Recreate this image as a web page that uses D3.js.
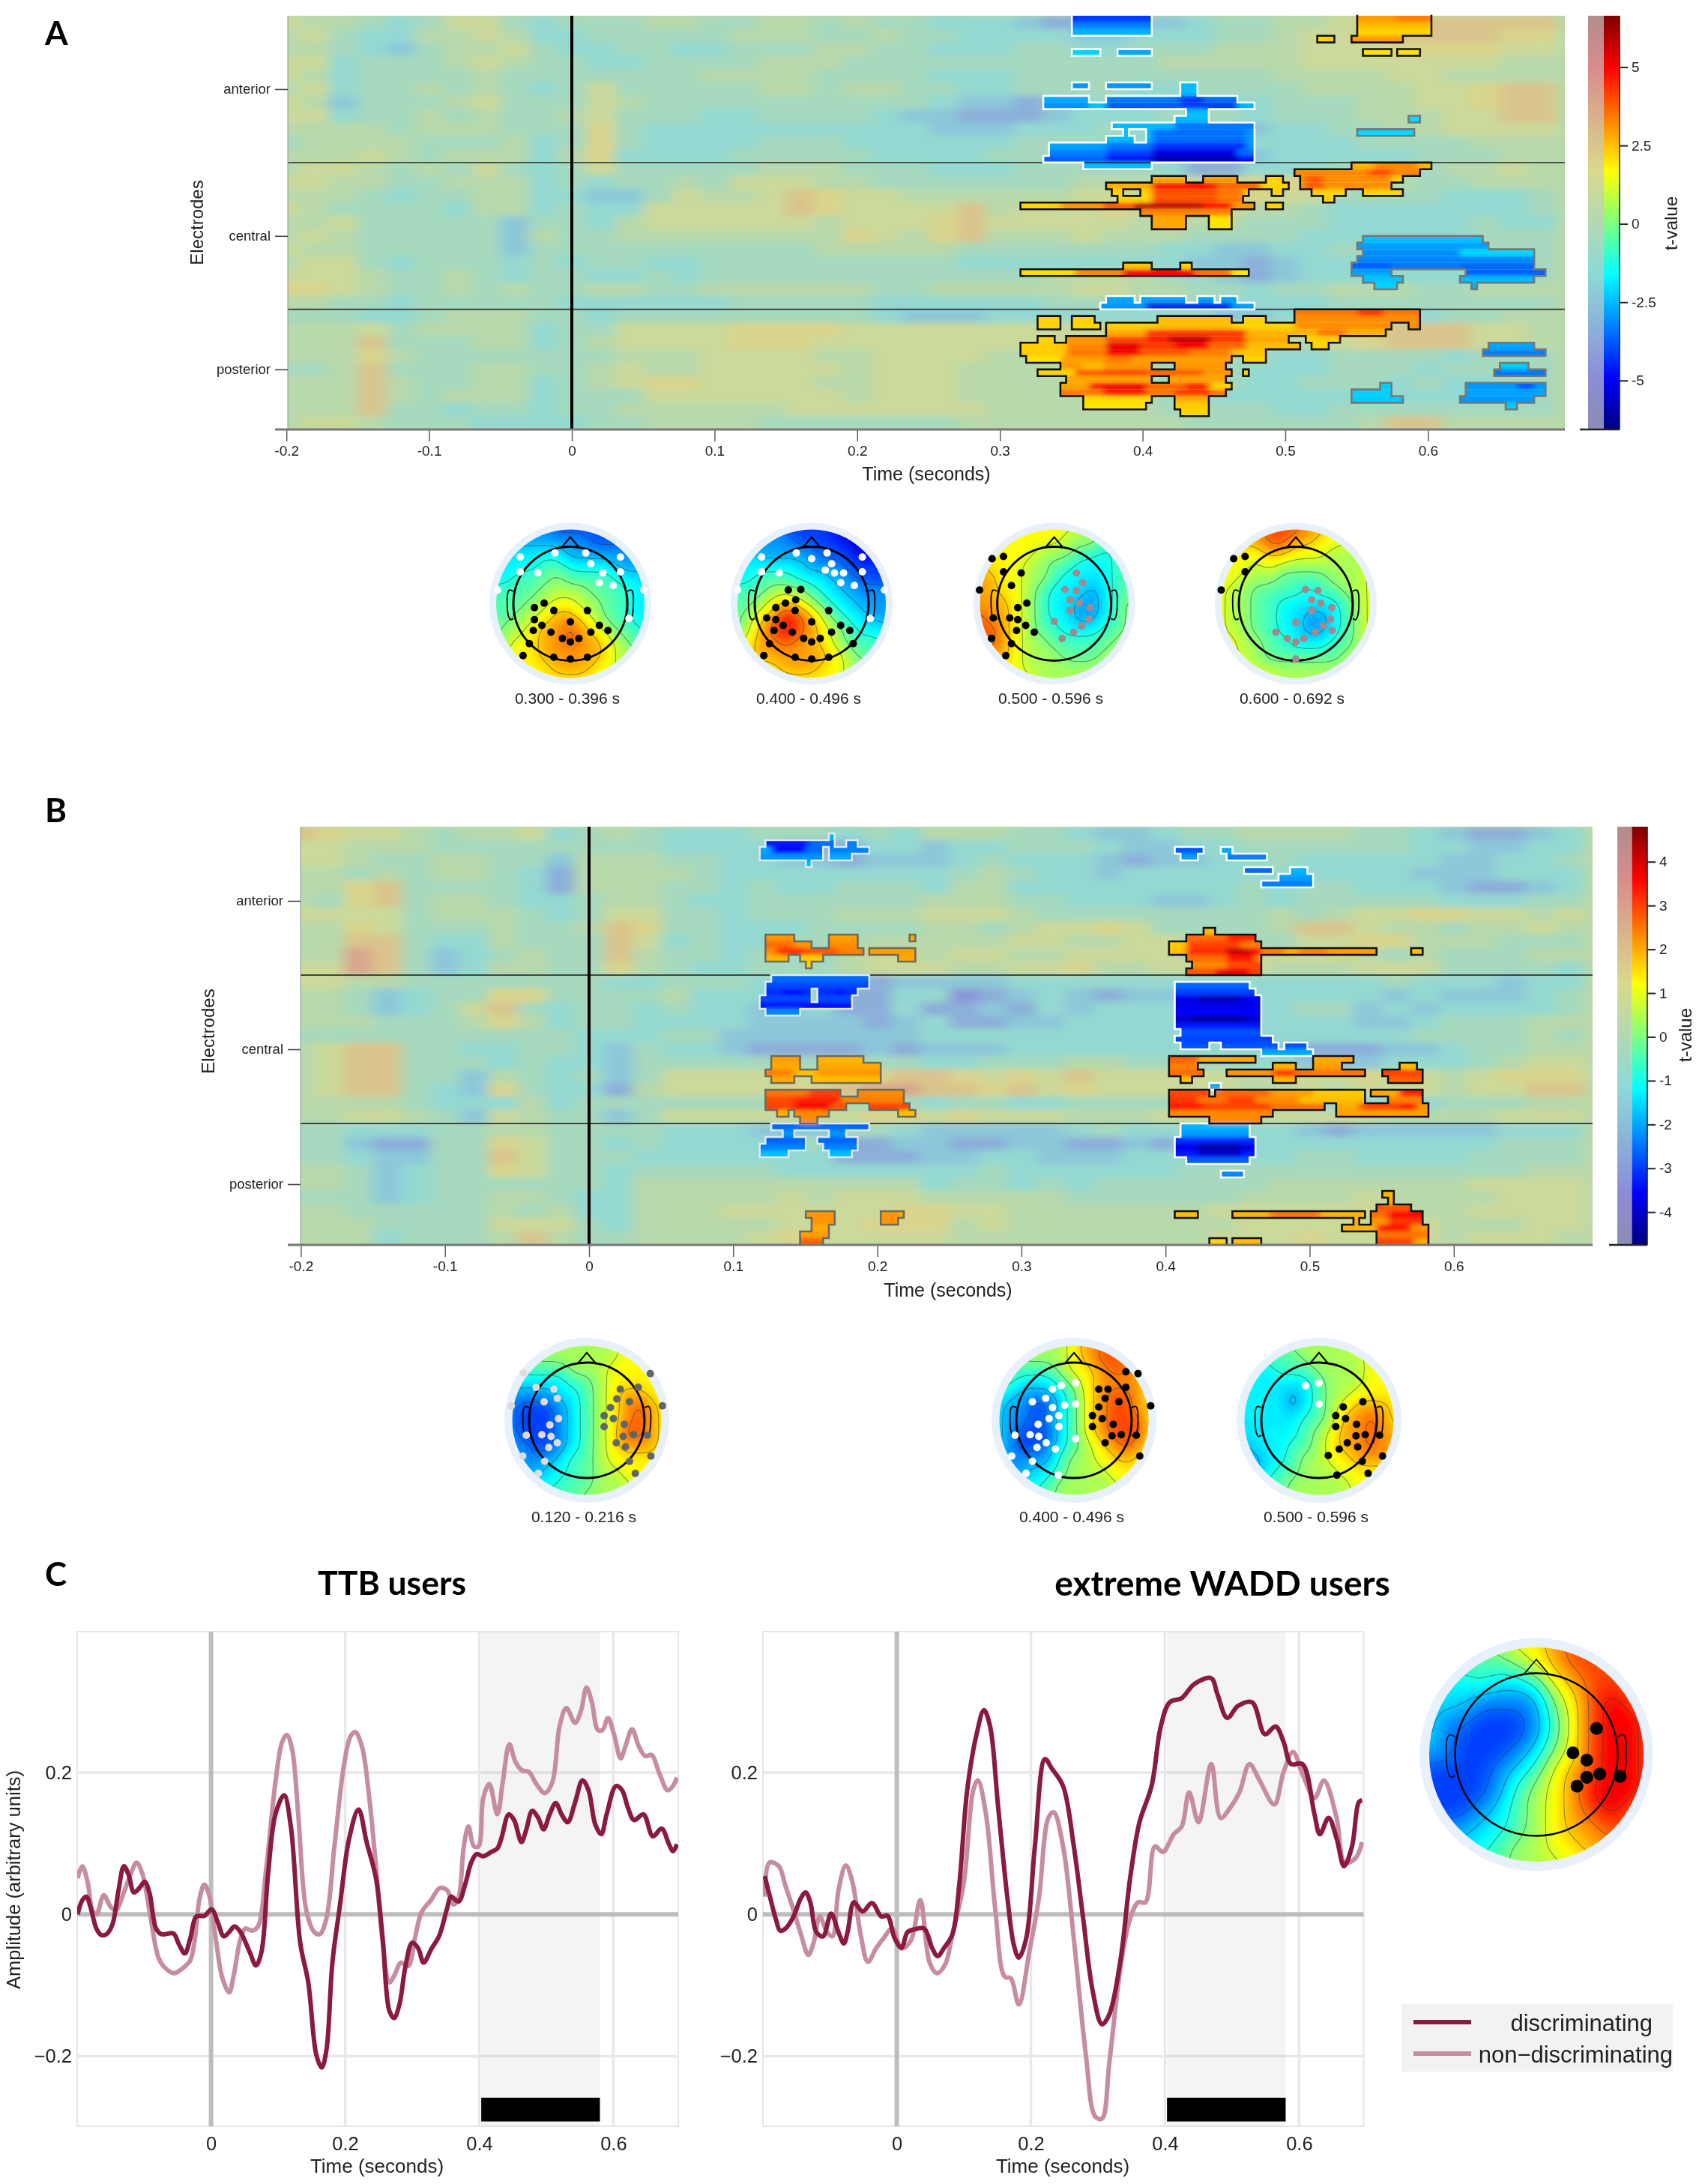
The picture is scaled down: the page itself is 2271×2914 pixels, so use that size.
<!DOCTYPE html>
<html>
<head>
<meta charset="utf-8">
<script src="https://cdn.jsdelivr.net/npm/d3@7"></script>
<style>
  html, body { margin: 0; padding: 0; background: #fff; }
  svg { display: block; }
  text { font-family: "Liberation Sans", Arial, sans-serif; fill: #222; }
  .bold { font-family: Lato, "Liberation Sans", sans-serif; font-weight: 700; fill: #000; }
</style>
</head>
<body>
<div id="chart"></div>
<script>
// ---------- panel A / B shared labels ----------
const timeTicks = [-0.2, -0.1, 0, 0.1, 0.2, 0.3, 0.4, 0.5, 0.6];
const regionNames = ['anterior', 'central', 'posterior'];
const regionTickRows = [11, 33, 53];
const regionSplitRows = [22, 44];
const tMaxA = 6.6;
const tMaxB = 4.8;
const barTicksA = [5, 2.5, 0, -2.5, -5];
const barTicksB = [4, 3, 2, 1, 0, -1, -2, -3, -4];

// background digit -> fraction of the colour scale
const bgLevels = [-0.7, -0.52, -0.36, -0.2, -0.08, 0.04, 0.16, 0.28, 0.38, 0.58];

// faded (non significant) t-values: one string per two electrodes, one digit per 20 ms
const bgA = [
  '65543 46643 44455 44554 54433 32111 22344 55678 88888',
  '56433 55653 34444 45554 45443 33322 33344 56678 88877',
  '55432 45564 33443 34445 54433 34433 44455 56667 77766',
  '66344 45654 43344 44555 44444 44444 45555 56666 66655',
  '65344 44544 44444 55554 44433 34444 44444 55556 65555',
  '56344 54543 46444 44554 55443 34444 33444 45555 66788',
  '65244 45644 46544 44444 44432 21233 34433 44455 66788',
  '66344 54544 56444 33444 43221 11233 34443 44455 56688',
  '55554 55544 47433 33333 33322 23334 33222 33445 56666',
  '45555 44453 47433 33444 33333 34443 33233 33344 44555',
  '55565 45553 57333 34444 43333 44444 43112 33333 44455',
  '56654 54643 46444 44555 44433 34444 43113 33444 45565',
  '66554 45553 43445 46665 54444 44455 55667 77665 44555',
  '55543 44553 32246 55687 66555 55566 66777 66444 43334',
  '65444 43553 43366 66687 66668 56667 66665 54333 33334',
  '55644 44424 43566 66665 66678 66666 56554 44333 33433',
  '56544 44425 44555 55555 76578 55565 55444 43333 33444',
  '65544 44424 44444 44445 55554 44444 43322 33444 44444',
  '56643 44434 34433 44444 44443 33333 33221 23333 33344',
  '66654 45434 43343 44444 44444 44555 54321 23333 33444',
  '77654 45454 45544 55555 54455 55566 55443 44555 44555',
  '55443 44444 33333 34444 43333 33444 44433 33444 44444',
  '44433 45554 43444 44444 43222 33333 33322 33333 34455',
  '55564 55553 44666 67777 66666 66666 66666 66778 88665',
  '55584 44553 45666 67776 66666 66666 66655 55678 88665',
  '55575 44444 44555 66665 56666 55555 55444 33444 43444',
  '44584 44554 45655 66666 56665 55555 54443 33444 34444',
  '55585 44553 45677 66665 56665 55554 44443 34443 43344',
  '55585 45553 44466 66666 56665 55554 44433 33333 33344',
  '55584 43443 44555 55566 66666 55555 54444 33444 44444',
  '56654 44333 34455 55444 44445 55555 55444 44458 85555'
];
const bgB = [
  '87665 45563 45433 34443 43555 44322 34455 55443 21123',
  '66555 44444 44433 33111 33233 44432 23344 44443 32233',
  '66544 55442 55544 33221 22234 33321 22334 33333 22334',
  '55454 55431 55554 33333 33345 43323 33333 33332 22333',
  '55784 44431 55544 34334 44355 33333 33343 44333 21123',
  '54784 55433 45543 34444 44555 44333 22343 44444 33344',
  '66664 55543 46644 34445 55666 54444 44445 45667 76656',
  '55764 44544 58744 33344 44554 56676 44445 88655 45565',
  '55884 33544 48634 33444 55555 66556 65544 66775 55444',
  '55984 23454 48544 34435 66566 55666 65666 66545 44455',
  '66984 23554 47543 34445 66655 66755 66665 55666 44443',
  '66554 44444 43344 43433 12222 33333 33333 33343 33233',
  '55423 44774 44453 33331 13301 23212 21333 33323 22234',
  '55423 46843 44343 32231 13112 13233 33433 44232 33334',
  '55544 45753 44333 32222 12311 22333 33433 33223 44455',
  '44444 44444 33344 22222 22333 33333 33333 33334 44454',
  '56884 43344 32433 21111 21222 33333 33332 11122 34455',
  '56884 44343 32444 44444 44334 44554 44433 22233 34566',
  '56884 42543 42466 66668 78876 76866 66656 66766 56777',
  '56884 32743 31566 66778 99887 86766 66655 65666 56688',
  '55554 33353 44444 44434 44344 33444 44433 33333 44455',
  '55665 42654 42466 66666 77676 66555 66566 66655 55666',
  '44333 44554 44433 32224 43222 22343 34433 21222 22333',
  '44211 44764 43433 33341 12211 22112 13433 33333 33444',
  '44322 44864 44333 33331 11223 32223 33433 44333 34444',
  '55423 44764 43444 44333 33334 33333 34444 44444 44455',
  '55423 44444 43555 55555 55344 34344 44445 55555 56666',
  '44423 44554 33555 55656 66555 55444 44455 55655 55666',
  '55444 44545 33555 66666 67766 55555 55666 66655 56666',
  '55544 44666 43555 55666 77756 55555 55566 66666 55566',
  '55534 44585 44555 56766 66655 55555 55666 76666 56665'
];

// significant clusters: [electrode row, first ms, end ms]
const whiteMaskA = [
  [0,348,404],[1,348,404],[2,348,404],[5,348,368],[5,380,404],
  [10,348,360],[10,372,404],[10,424,436],[11,424,436],
  [12,328,360],[12,372,464],[13,328,476],[14,428,444],[15,420,444],
  [16,376,476],[17,384,388],[17,400,476],[18,372,392],[18,400,476],
  [19,332,476],[20,332,476],[21,328,476],[22,356,404],
  [42,372,392],[42,396,428],[42,436,448],[42,452,464],[43,368,476]
];
const blackMaskA = [
  [0,548,600],[1,548,600],[2,548,600],[3,520,532],[3,544,580],[5,552,572],[5,576,592],
  [22,544,600],[23,504,592],[24,508,580],[25,508,572],[26,516,540],[26,552,580],[27,524,532],
  [24,404,428],[24,440,464],[24,484,496],[25,372,500],[26,376,384],[26,396,472],[26,488,496],
  [27,380,468],[28,312,476],[28,484,496],[29,396,460],[30,404,428],[30,444,460],[31,404,428],[31,444,460],
  [37,384,404],[37,424,432],[38,312,472],
  [44,504,592],[45,324,340],[45,348,364],[45,408,460],[45,468,484],[45,504,592],
  [46,324,340],[46,348,368],[46,372,572],[46,584,592],[47,372,568],
  [48,324,336],[48,344,500],[48,512,536],[49,312,508],[49,516,528],[50,312,484],
  [51,316,460],[51,468,484],[52,340,404],[52,420,456],[53,324,460],[53,468,472],
  [54,344,404],[54,416,456],[55,340,460],[56,340,456],[57,356,404],[57,420,444],
  [58,356,400],[58,420,444],[59,424,444]
];
const greyMaskA = [
  [15,584,592],[17,548,588],
  [33,552,636],[34,548,640],[35,552,672],[36,548,672],[37,544,672],[38,544,572],[38,624,680],
  [39,552,580],[39,620,672],[40,560,576],[40,628,632],
  [49,640,672],[50,636,680],[52,648,668],[53,644,680],
  [55,564,572],[55,624,680],[56,544,572],[56,624,680],[57,544,580],[57,620,672],[58,652,660]
];
// values inside the clusters: [first row, last row, first ms, end ms, t]
const heatA = [
  [0,0,348,404,-4.2],[1,1,348,404,-3.3],[2,2,348,404,-2.6],[5,5,348,368,-2.2],[5,5,380,404,-2.8],
  [10,10,348,404,-3],[10,11,424,436,-2.5],[12,12,328,360,-2.7],[12,12,372,424,-3.3],[12,12,424,440,-4.3],[12,12,440,464,-3.5],
  [13,13,328,360,-3.1],[13,13,360,372,-2.4],[13,13,372,424,-3.8],[13,13,424,464,-4.2],[13,13,464,476,-2.6],
  [14,15,420,444,-2.5],[16,16,376,420,-2.5],[16,16,420,476,-3.4],[17,18,372,404,-2.5],[17,18,404,470,-3.5],
  [19,19,332,372,-2.8],[19,19,372,404,-3.4],[19,19,404,470,-4.3],
  [20,20,332,372,-3.3],[20,20,372,404,-4.1],[20,20,404,464,-5.3],[20,20,464,476,-3.6],
  [21,21,328,372,-3.7],[21,21,372,404,-5],[21,21,404,464,-6],[21,21,464,476,-4.8],[22,22,356,404,-2.5],
  [42,42,372,464,-2.8],[43,43,368,400,-3],[43,43,400,460,-4.4],[43,43,460,476,-2.9],
  [0,0,548,575,2.9],[0,0,575,600,3.3],[1,1,548,600,2.5],[2,2,548,600,2.2],[3,3,544,580,3],[3,3,520,532,2.2],[5,5,552,592,2],
  [22,22,544,600,2.6],[22,22,560,590,3.2],[23,23,504,592,3.2],[23,23,556,572,4],[24,25,508,572,3.1],[24,25,512,524,3.8],
  [24,24,404,428,2.7],[24,24,440,464,2.9],[25,25,372,404,2.7],[25,25,404,450,4.8],[25,25,450,480,3.6],
  [26,27,380,404,2.2],[26,27,404,450,3.9],[26,27,450,468,3.4],
  [28,28,312,340,2.2],[28,28,340,370,3],[28,28,370,392,3.8],[28,28,392,440,5.8],[28,28,440,460,4.8],[28,28,460,476,3],
  [29,29,396,460,3.2],[30,31,404,428,2.8],[30,31,444,460,2],
  [37,37,384,404,2.4],[37,37,424,432,2.2],[38,38,312,350,2.1],[38,38,350,384,3.2],[38,38,384,434,5.2],[38,38,434,460,3.5],[38,38,460,472,2],
  [44,44,504,592,3.4],[44,44,548,566,4.3],[45,46,504,592,3.1],[45,46,408,460,2.5],[46,46,372,408,2.3],
  [47,47,372,400,2.7],[47,47,400,470,4.2],[47,47,470,568,2.6],[47,47,520,540,3.4],
  [48,48,344,372,3],[48,48,372,400,4],[48,48,400,416,4.6],[48,48,416,445,5.7],[48,48,445,470,4.2],[48,48,470,500,2.8],
  [49,49,312,344,2.3],[49,49,344,372,3.2],[49,49,372,396,5.3],[49,49,396,420,4.2],[49,49,420,444,5],[49,49,444,470,3.6],[49,49,470,508,2.5],
  [50,50,312,344,2.3],[50,50,344,372,3.4],[50,50,372,396,5],[50,50,396,430,3.8],[50,50,430,460,3.3],[50,50,460,484,2.4],
  [51,51,316,340,2],[51,51,340,460,2.9],[51,51,372,390,3.4],[52,52,340,460,3],[52,52,355,370,2.5],
  [53,53,324,350,2.2],[53,53,350,440,3.7],[53,53,370,400,4],[53,53,440,460,3],[54,54,344,456,2.8],
  [55,55,340,360,2.8],[55,55,360,370,4.6],[55,55,370,400,5.2],[55,55,400,428,3.6],[55,55,428,444,4.5],
  [56,56,340,456,3.4],[56,56,370,400,4.6],[56,56,420,445,4.2],[57,57,356,404,2.1],[57,57,420,444,2.7],
  [58,58,356,400,2],[58,58,420,444,2.3],[59,59,424,444,2.2],
  [15,15,584,592,-2.1],[17,17,548,588,-2.1],[33,33,552,636,-2.4],[34,34,548,640,-2.9],[35,35,552,620,-3.1],[35,35,620,672,-2.1],
  [36,36,548,672,-3.2],[37,37,544,572,-3.8],[37,37,572,620,-3.4],[37,37,620,672,-3.6],[38,38,544,572,-2.8],[38,38,624,680,-3.7],
  [39,39,552,580,-2.4],[39,39,620,672,-2.5],[40,40,560,576,-2.2],[49,49,640,672,-2.8],[50,50,636,680,-3.3],
  [52,52,648,668,-2.3],[53,53,644,680,-3.4],[55,55,564,572,-2.3],[55,55,624,680,-3],[55,55,660,672,-3.8],[56,56,544,572,-2.2],[56,56,624,680,-2.8],
  [57,57,544,580,-2.3],[57,57,620,672,-3],[58,58,652,660,-2.3]
];

const paleMaskB = [
  [1,164,168],[2,120,168],[2,176,184],[3,116,160],[3,164,192],[4,116,160],[4,164,180],[5,148,152],
  [22,124,192],[23,120,192],[24,120,152],[24,156,184],[25,116,152],[25,156,180],[26,116,180],[27,120,144],
  [44,124,192],[45,132,140],[45,164,176],[46,120,148],[46,156,184],[47,116,148],[47,160,184],[48,116,136],[48,164,180]
];
const greyMaskB = [
  [16,120,140],[16,164,184],[16,220,224],[17,120,152],[17,164,184],[18,120,188],[18,192,224],[19,120,136],[19,144,160],[19,212,224],[20,148,152],
  [34,124,144],[34,156,188],[35,124,144],[35,156,200],[36,120,200],[37,124,140],[37,152,200],
  [39,120,172],[39,184,216],[40,120,216],[41,120,176],[41,192,220],[42,128,136],[42,140,164],[42,212,224],[43,144,156],
  [57,148,168],[57,200,216],[58,152,168],[58,200,212],[59,152,164],[60,144,164],[61,144,160]
];
const whiteMaskB = [
  [3,404,424],[4,408,420],[3,436,444],[4,440,468],[6,452,472],[6,484,496],[7,476,500],[8,464,500],
  [23,404,456],[24,404,460],[25,404,464],[26,404,464],[27,404,464],[28,404,464],[29,404,464],[30,408,464],[31,404,472],
  [32,408,428],[32,436,476],[32,480,496],[33,464,500],[38,428,436],
  [44,408,456],[45,408,456],[46,404,460],[47,404,460],[48,404,460],[49,412,456],[51,436,452]
];
const blackMaskB = [
  [15,424,432],[16,412,460],[17,400,464],[18,400,544],[18,568,576],[19,412,464],[20,416,464],[21,412,464],
  [34,400,460],[34,500,528],[35,400,420],[35,472,488],[35,500,520],[35,560,572],
  [36,400,424],[36,440,536],[36,548,576],[37,408,416],[37,472,488],[37,552,576],
  [39,400,428],[39,432,536],[39,540,576],[40,400,536],[40,552,576],[41,400,508],[41,516,580],[42,400,472],[42,516,580],[43,428,464],
  [54,548,556],[55,552,556],[56,544,568],[57,404,420],[57,444,536],[57,540,576],
  [58,528,532],[58,540,576],[59,520,580],[60,544,580],[61,428,440],[61,444,464],[61,544,580]
];
const heatB = [
  [1,1,164,168,-1.8],[2,2,120,150,-3.4],[2,2,150,168,-2.6],[2,2,176,184,-2.4],[3,3,116,124,-2],[3,3,124,148,-3.6],[3,3,148,160,-2.6],[3,3,164,192,-2.4],
  [4,4,116,160,-2.2],[4,4,164,180,-2],[5,5,148,152,-1.8],[22,22,124,192,-2.6],[23,23,120,192,-2.9],[24,24,120,184,-3.2],[24,24,132,146,-3.6],[24,24,168,176,-3.5],
  [25,25,116,180,-2.9],[26,26,116,180,-3.5],[27,27,120,144,-2.3],
  [44,44,124,192,-2.6],[45,45,132,176,-2.2],[46,46,120,184,-2.7],[47,47,116,184,-2.4],[48,48,116,180,-1.8],
  [16,16,120,140,2.2],[16,16,164,184,2.1],[17,17,120,140,2.6],[17,17,140,152,2.2],[17,17,164,184,2.3],
  [18,18,120,128,2.3],[18,18,128,148,3.2],[18,18,148,170,2.8],[18,18,170,188,2.4],[18,18,192,224,2.1],[19,19,120,136,1.9],[19,19,144,160,1.7],[20,20,148,152,1.6],
  [34,34,124,144,2.1],[34,34,156,188,1.9],[35,35,124,200,2],[36,36,120,140,2.4],[36,36,140,156,1.8],[36,36,156,200,2.2],[37,37,124,140,2],[37,37,152,200,1.8],
  [39,39,120,150,2.5],[39,39,150,172,3],[39,39,184,216,2.3],[40,40,120,140,2.9],[40,40,140,172,3.3],[40,40,172,216,2.4],
  [41,41,120,140,3],[41,41,140,165,3.7],[41,41,165,176,2.8],[41,41,192,220,3],[42,42,128,136,1.9],[42,42,140,164,2.3],[42,42,212,224,1.8],[43,43,144,156,2.3],
  [57,58,148,212,2.2],[59,59,152,164,2],[60,60,144,164,2.1],[61,61,144,160,2.7],
  [3,3,404,424,-2.8],[4,4,408,420,-2.1],[3,3,436,444,-2],[4,4,440,468,-2.4],[6,6,452,472,-2.6],[6,6,484,496,-1.9],[7,7,476,500,-2.1],[8,8,464,500,-2.4],
  [23,23,404,460,-2.6],[24,24,404,460,-3],[25,25,404,464,-3.8],[25,25,420,450,-4.3],[26,26,404,464,-3.8],[27,27,404,464,-3.6],[28,28,404,464,-4.1],[28,28,416,452,-4.5],
  [29,29,404,464,-3.4],[30,30,408,464,-2.8],[31,31,404,472,-3],[32,32,408,496,-2.8],[33,33,464,500,-2],[38,38,428,436,-2],
  [44,44,408,456,-1.9],[45,45,408,456,-2.1],[46,46,404,460,-3.2],[47,47,404,460,-3.8],[47,47,420,450,-4.4],[48,48,404,460,-3.4],[48,48,420,450,-4.1],[49,49,412,456,-2.7],[51,51,436,452,-2.3],
  [15,15,424,432,1.8],[16,16,412,440,2.6],[16,16,440,460,3.3],[17,17,400,412,1.7],[17,17,412,450,3],[17,17,450,464,2.4],
  [18,18,400,412,1.8],[18,18,412,440,3.2],[18,18,440,456,4.1],[18,18,456,464,3.6],[18,18,464,480,2.4],[18,18,480,490,2],[18,18,490,510,2.4],[18,18,510,544,2.1],[18,18,568,576,1.8],
  [19,19,412,440,2.6],[19,19,440,460,3.4],[20,20,416,440,2.3],[20,20,440,464,2.9],[21,21,412,432,2.8],[21,21,432,456,3.8],[21,21,456,464,3],
  [34,34,400,420,2.7],[34,34,420,460,2],[34,34,500,528,2],[35,35,400,420,2.4],[35,35,472,488,1.9],[35,35,500,520,2.1],[35,35,560,572,1.8],
  [36,36,400,424,2.6],[36,36,440,472,2.2],[36,36,472,488,3.2],[36,36,488,536,2.5],[36,36,548,576,3],[37,37,408,416,1.8],[37,37,472,488,1.9],[37,37,552,576,2.7],
  [39,39,400,428,2.9],[39,39,432,470,2.6],[39,39,470,500,2.1],[39,39,500,536,1.7],[39,39,540,560,2],[39,39,560,576,3.3],
  [40,40,400,420,3.1],[40,40,420,440,2.5],[40,40,440,460,3],[40,40,460,490,2.3],[40,40,490,536,1.8],[40,40,552,576,2.4],
  [41,41,400,424,3.4],[41,41,424,470,3],[41,41,470,508,2.5],[41,41,516,532,2],[41,41,532,560,3],[41,41,560,572,3.6],[41,41,572,580,2.2],
  [42,42,400,472,2.3],[42,42,516,580,2.1],[43,43,428,464,2.3],
  [54,55,548,556,1.9],[56,56,544,568,2.8],[57,57,404,420,1.8],[57,57,444,470,1.9],[57,57,470,505,2.5],[57,57,505,536,1.9],[57,57,540,552,2.6],[57,57,552,576,3.6],
  [58,58,528,532,2],[58,58,540,552,2.2],[58,58,552,576,3.1],[59,59,520,544,1.9],[59,59,544,568,3.5],[59,59,568,580,2.2],[60,60,544,580,2.5],
  [61,61,544,570,3],[61,61,570,580,2],[61,61,428,440,1.6],[61,61,444,464,1.8]
];

// ---------- scalp maps: 13 x 13 grid of colour levels, top row first ----------
const topoA1 = ['2222211112222','2222222211111','3333332222222','3333443333222','3344454444333','4444555544433','4445566554433','4455677654433','4556778765443','4566778776544','5666777776554','6666677766555','6666666665555'];
const topoA2 = ['2222111100000','2222211110000','3322222111000','3333332221111','3344433322111','4445554332222','4456765433222','4567987543322','4578987654333','5677877654443','6677777765444','6666777665555','6666666665555'];
const topoA3 = ['6666666655555','6666666555444','6666655544344','7666554433344','7766554333344','7766543332344','7776543322345','8776543322345','8876544333445','8876554444455','8776555444555','7766555555555','7766655555555'];
const topoA4 = ['6677888776555','6677887766655','6666776665555','6665655555556','6655544445556','6554444344556','6554433333456','6554433223456','6554433223456','6655443334456','6655444444556','6665555555566','6666655555566'];
const topoB1 = ['5555555556666','4455555556666','4444455566666','3333344566666','2222334567766','2111234567876','2111234567876','2111234568876','2211234567776','2222344566666','3223344556666','3333444555666','4444445555666'];
const topoB2 = ['5555556778777','4455556788777','4444456678877','4433345677776','3322234678876','3221134678876','3221234678886','3211134678886','3211234567876','2222245566766','2223345556666','3333455555666','4444455555666'];
const topoB3 = ['4444555556666','3444455555666','3334445555666','3333334555666','3333234556666','3333234567776','3333344577876','3333345677877','2333445677877','2233455667777','2234455566666','3344555556666','4444555556666'];
const topoC = ['4445566788887','4444456788887','3334334678887','3332222568987','3221112468998','3211112468998','2211123568998','1111234678998','1111245679998','1112345678987','1223345677887','2333455667777','3334455566777'];

// electrode dots in head radii: [left-right, front-back]
const dotsA1Black = [[-.46,-.01],[-.63,.07],[-.29,.12],[.30,.12],[-.63,.28],[0,.32],[-.50,.38],[-.65,.47],[.51,.38],[.66,.47],[-.34,.50],[.36,.50],[-.14,.61],[.15,.61],[0,.67],[-.72,.70],[-.83,.91],[-.29,.94],[0,.97],[.30,.94]];
const dotsA1White = [[-.88,-.82],[-.27,-.89],[.27,-.89],[.88,-.82],[.36,-.70],[-.88,-.56],[-.57,-.54],[.57,-.54],[.88,-.56],[.51,-.37],[.75,-.32],[-1.28,-.24],[1.29,-.24],[1.03,.26]];
const dotsA2Black = [[-.41,-.24],[-.19,-.25],[-.28,-.07],[-.46,-.01],[-.63,.07],[-.29,.12],[.30,.12],[-.79,.25],[-.63,.28],[0,.32],[-.50,.38],[-.66,.47],[.51,.38],[.67,.47],[-.34,.50],[.35,.50],[-.14,.61],[.15,.61],[0,.67],[-.74,.70],[.73,.70],[-.84,.91],[-.29,.94],[0,.97],[.30,.94]];
const dotsA2White = [[-.88,-.82],[-.27,-.89],[.27,-.89],[.89,-.82],[0,-.79],[.35,-.70],[-.88,-.56],[-.57,-.54],[.24,-.59],[.40,-.54],[.56,-.54],[.89,-.56],[.51,-.37],[.75,-.32],[-1.30,-.24],[1.28,-.24],[1.03,.26]];
const dotsA3Black = [[-1.09,-.79],[-.89,-.83],[-.89,-.56],[-.58,-.54],[-.75,-.32],[-1.31,-.24],[-.48,-.01],[-.64,.07],[-1.07,.25],[-.78,.25],[-.64,.28],[-.50,.38],[-.66,.47],[-.35,.50],[-1.10,.61],[-.75,.70],[-.85,.91]];
const dotsA3Grey = [[.39,-.54],[.50,-.37],[.19,-.25],[.39,-.23],[.28,-.07],[.44,-.01],[.28,.12],[.63,.07],[.61,.27],[0,.31],[.48,.39],[.34,.50],[.14,.61]];
const dotsA4Black = [[-1.09,-.79],[-.89,-.83],[-.89,-.56],[-1.31,-.24]];
const dotsA4Grey = [[.17,-.25],[.39,-.23],[.28,-.07],[.44,-.01],[.28,.12],[.63,.07],[.61,.27],[0,.33],[.48,.38],[.64,.47],[-.35,.50],[.34,.50],[-.15,.61],[.14,.61],[0,.67],[0,.97]];
const dotsB1Light = [[-1.10,-.82],[-.88,-.57],[-.57,-.54],[-.51,-.38],[-.74,-.32],[-1.31,-.25],[-.49,-.03],[-.64,.08],[-1.05,.26],[-.78,.25],[-.62,.28],[-.51,.39],[-.66,.47],[-1.11,.62],[-.73,.71],[-.84,.92]];
const dotsB1Dark = [[1.10,-.81],[.89,-.57],[.58,-.54],[.52,-.37],[.74,-.32],[1.31,-.25],[.41,-.22],[.30,-.08],[.46,-.03],[.65,.07],[.30,.11],[.63,.28],[.81,.25],[1.05,.26],[.51,.39],[.67,.46],[1.11,.62],[.74,.71],[.84,.92]];
const dotsB2White = [[.03,-.65],[-.22,-.60],[-.37,-.54],[-.49,-.38],[-.72,-.32],[.03,-.28],[-.16,-.26],[-.37,-.22],[-.26,-.08],[-.43,-.03],[-.62,.07],[-.26,.11],[-1.02,.26],[-.76,.25],[-.61,.28],[-.48,.39],[.03,.32],[-.64,.47],[-.32,.50],[-1.08,.62],[-.72,.71],[-.83,.92],[-.27,.95]];
const dotsB2Black = [[.90,-.84],[1.11,-.81],[.43,-.54],[.59,-.54],[.90,-.57],[.54,-.38],[.78,-.32],[.43,-.23],[1.33,-.25],[.32,-.08],[.49,-.03],[.68,.07],[.32,.11],[.66,.27],[.82,.25],[1.08,.26],[.54,.39],[1.14,.62]];
const dotsB3White = [[-.23,-.60],[0,-.65],[0,-.28]];
const dotsB3Black = [[.76,-.32],[.42,-.23],[.29,-.08],[.46,-.03],[.65,.07],[.29,.11],[.80,.25],[.64,.27],[.49,.39],[1.05,.26],[.67,.46],[.35,.50],[.16,.61],[.75,.71],[1.10,.62],[.85,.92],[.31,.95]];
const dotsCBlack = [[.74,-.32],[.45,-.02],[.62,.07],[.78,.24],[.62,.28],[.50,.39],[1.03,.27]];

// ---------- panel C: [ms, amplitude] ----------
const ttbDiscriminating = [[-199,0],[-192,.02],[-186,.025],[-180,.011],[-171,-.02],[-164,-.029],[-156,-.028],[-147,-.014],[-138,.034],[-130,.068],[-123,.056],[-115,.031],[-107,.037],[-99,.046],[-92,.031],[-82,-.02],[-74,-.028],[-56,-.027],[-48,-.042],[-39,-.055],[-31,-.034],[-22,-.003],[-10,-.002],[1,.007],[10,-.011],[19,-.031],[27,-.025],[35,-.017],[44,-.025],[58,-.054],[67,-.072],[75,-.054],[85,.056],[96,.141],[109,.168],[119,.124],[133,-.04],[145,-.096],[157,-.198],[165,-.216],[172,-.192],[181,-.068],[192,.011],[206,.107],[220,.148],[232,.102],[246,.051],[256,-.034],[266,-.136],[273,-.146],[281,-.127],[290,-.073],[300,-.04],[309,-.048],[317,-.068],[329,-.048],[340,-.031],[352,.008],[358,.025],[369,.018],[379,.042],[388,.073],[396,.085],[406,.082],[418,.088],[427,.093],[433,.107],[444,.141],[452,.133],[463,.102],[470,.119],[479,.146],[488,.136],[496,.12],[505,.141],[514,.157],[524,.139],[532,.13],[543,.158],[554,.189],[563,.175],[573,.127],[582,.113],[590,.141],[604,.181],[613,.175],[622,.15],[631,.133],[645,.141],[659,.11],[672,.121],[683,.099],[689,.089],[695,.099]];
const ttbNonDiscriminating = [[-199,.051],[-192,.068],[-184,.045],[-177,.006],[-171,0],[-160,.027],[-150,.011],[-142,.006],[-130,.031],[-119,.059],[-111,.073],[-102,.056],[-92,.006],[-78,-.062],[-68,-.076],[-55,-.083],[-41,-.075],[-31,-.065],[-24,-.034],[-17,.023],[-10,.042],[-3,.028],[7,-.034],[17,-.09],[27,-.11],[34,-.085],[44,-.034],[51,-.02],[61,-.023],[70,-.017],[82,.062],[96,.186],[106,.243],[113,.253],[121,.232],[130,.141],[142,.006],[154,-.025],[162,-.028],[172,-.006],[184,.096],[198,.209],[208,.251],[215,.257],[225,.237],[236,.164],[246,.068],[256,-.04],[266,-.096],[274,-.085],[283,-.068],[294,-.073],[304,-.034],[314,.003],[328,.02],[341,.037],[352,.034],[362,.014],[369,.023],[377,.096],[384,.124],[392,.096],[399,.096],[406,.164],[415,.184],[427,.141],[435,.186],[445,.24],[454,.215],[464,.203],[474,.201],[485,.184],[498,.171],[509,.186],[520,.266],[530,.291],[543,.27],[552,.288],[560,.32],[568,.299],[577,.26],[584,.26],[592,.277],[601,.254],[611,.22],[618,.237],[628,.261],[638,.237],[648,.223],[657,.225],[669,.198],[681,.175],[689,.181],[695,.193]];
const waddDiscriminating = [[-197,.054],[-190,.028],[-180,-.008],[-174,-.023],[-166,-.02],[-154,-.003],[-143,.023],[-136,.031],[-129,.017],[-120,-.025],[-110,-.031],[-98,.001],[-87,-.025],[-79,-.041],[-73,-.023],[-64,.017],[-51,.004],[-37,.016],[-23,-.003],[-14,-.002],[-3,-.034],[7,-.047],[16,-.025],[27,-.021],[41,-.02],[53,-.048],[61,-.059],[70,-.048],[83,-.028],[93,.04],[105,.175],[119,.254],[130,.288],[139,.266],[151,.153],[165,.023],[175,-.045],[182,-.061],[193,-.034],[206,.096],[221,.219],[231,.206],[248,.181],[264,.096],[278,-.006],[292,-.107],[306,-.155],[317,-.141],[334,-.062],[348,.051],[362,.13],[380,.181],[394,.266],[407,.299],[425,.305],[444,.325],[469,.333],[478,.311],[493,.277],[509,.294],[530,.299],[549,.254],[565,.265],[577,.243],[588,.212],[605,.212],[623,.141],[631,.113],[644,.136],[656,.107],[667,.068],[679,.096],[689,.158],[694,.161]];
const waddNonDiscriminating = [[-197,.025],[-190,.073],[-176,.068],[-166,.04],[-154,.006],[-143,-.028],[-132,-.057],[-124,-.04],[-115,-.003],[-104,-.025],[-96,-.031],[-87,.034],[-76,.069],[-66,.045],[-54,-.028],[-43,-.067],[-31,-.048],[-20,-.034],[-7,-.02],[7,-.048],[21,-.037],[35,.02],[49,-.068],[60,-.083],[72,-.071],[83,-.028],[100,.045],[114,.175],[121,.189],[133,.141],[147,.006],[161,-.088],[170,-.09],[182,-.127],[198,-.051],[212,.023],[226,.136],[234,.144],[248,.096],[264,-.034],[282,-.198],[296,-.285],[306,-.288],[317,-.209],[334,-.073],[348,-.006],[360,.017],[371,.017],[385,.096],[397,.088],[413,.113],[425,.124],[436,.172],[450,.13],[469,.212],[483,.136],[497,.15],[511,.172],[526,.212],[541,.189],[563,.155],[577,.201],[591,.229],[605,.198],[623,.164],[637,.189],[656,.136],[668,.073],[684,.079],[694,.102]];
const lineTicksX = [0, 0.2, 0.4, 0.6];
const lineTicksY = [-0.2, 0, 0.2];
const windowSeconds = [0.403, 0.58];
const windowBar = [-0.2585, -0.292];
const legendLabels = ['discriminating', 'non\u2212discriminating'];

const colorDark = '#8a1a42';
const colorLight = '#c68da1';

const W = 2271, H = 2914;
const svg = d3.select('#chart').append('svg').attr('width', W).attr('height', H);
const defs = svg.append('defs');

const jetStops = [0, .125, .375, .625, .875, 1];
const jetColors = ['#00007f', '#0000ff', '#00ffff', '#ffff00', '#ff0000', '#7f0000'];
const jet = d3.scaleLinear().domain(jetStops).range(jetColors).clamp(true);
const pale = f => d3.interpolateRgb('#c8c8c8', jet(f))(0.3);

function addBlur(id, sx, sy) {
  defs.append('filter').attr('id', id)
    .attr('x', '-5%').attr('y', '-5%').attr('width', '110%').attr('height', '110%')
    .append('feGaussianBlur').attr('stdDeviation', sx + ' ' + sy);
}
addBlur('blurBg', 9, 4);
addBlur('blurHeat', 4, 2.5);
addBlur('blurTopo', 1.5, 1.5);

// one heat map with its colour bar
function drawHeatPanel(o) {
  const g = svg.append('g');
  const x = d3.scaleLinear().domain([0, 1]).range([o.zeroX, o.zeroX + o.pxPerSec]);
  const y = d3.scaleLinear().domain([0, 62]).range([o.top, o.bottom]);
  const xMs = m => x((m + 2.4) / 1000);
  const colour = d3.scaleLinear().domain([-o.tMax, o.tMax]).range([0, 1]);
  const left = o.left, right = o.right;

  defs.append('clipPath').attr('id', o.id + 'plot').append('rect')
    .attr('x', left).attr('y', o.top).attr('width', right - left).attr('height', o.bottom - o.top);

  const bgG = g.append('g').attr('clip-path', 'url(#' + o.id + 'plot)');
  bgG.append('rect').attr('x', left).attr('y', o.top).attr('width', right - left).attr('height', o.bottom - o.top)
    .attr('fill', pale(0.53));
  const cells = bgG.append('g').attr('filter', 'url(#blurBg)');
  o.bg.forEach((row, i) => {
    const digits = row.replace(/ /g, '').split('');
    cells.selectAll(null).data(digits).enter().append('rect')
      .attr('x', (d, c) => x(-0.21 + c * 0.02))
      .attr('y', y(i * 2))
      .attr('width', x(0.02) - x(0) + 1)
      .attr('height', y(2) - y(0) + 1)
      .attr('fill', d => pale(colour(bgLevels[+d] * o.tMax)));
  });

  // significant cells, clipped to the union of the masks
  const clip = defs.append('clipPath').attr('id', o.id + 'mask');
  const allSpans = o.masks.flatMap(m => m.spans.map(s => ({ s: s, base: m.base })));
  clip.selectAll('rect').data(allSpans).enter().append('rect')
    .attr('x', d => xMs(d.s[1])).attr('y', d => y(d.s[0]))
    .attr('width', d => xMs(d.s[2]) - xMs(d.s[1])).attr('height', y(1) - y(0));

  const sigG = g.append('g').attr('clip-path', 'url(#' + o.id + 'mask)');
  function paint(layer) {
    layer.selectAll('rect.base').data(allSpans).enter().append('rect').attr('class', 'base')
      .attr('x', d => xMs(d.s[1])).attr('y', d => y(d.s[0]))
      .attr('width', d => xMs(d.s[2]) - xMs(d.s[1]) + 0.5).attr('height', y(1) - y(0) + 0.5)
      .attr('fill', d => jet(colour(d.base)));
    layer.selectAll('rect.heat').data(o.heat).enter().append('rect').attr('class', 'heat')
      .attr('x', d => xMs(d[2])).attr('y', d => y(d[0]))
      .attr('width', d => xMs(d[3]) - xMs(d[2]) + 0.5).attr('height', d => y(d[1] + 1) - y(d[0]) + 0.5)
      .attr('fill', d => jet(colour(d[4])));
  }
  paint(sigG.append('g'));
  paint(sigG.append('g').attr('filter', 'url(#blurHeat)'));

  // region separators and the stimulus line
  g.selectAll('line.split').data(regionSplitRows).enter().append('line').attr('class', 'split')
    .attr('x1', left).attr('x2', right).attr('y1', d => y(d)).attr('y2', d => y(d))
    .attr('stroke', '#222').attr('stroke-width', 1.8).attr('opacity', 0.8);

  // cluster outlines are the edges between a masked cell and an unmasked one
  o.masks.forEach(m => {
    const inMask = new Set();
    m.spans.forEach(s => { for (let t = s[1]; t < s[2]; t += 4) inMask.add(s[0] + ':' + t); });
    let d = '';
    inMask.forEach(key => {
      const [r, t] = key.split(':').map(Number);
      const x0 = xMs(t), x1 = xMs(t + 4), y0 = y(r), y1 = y(r + 1);
      if (r > 0 && !inMask.has((r - 1) + ':' + t)) d += `M${x0},${y0}L${x1},${y0}`;
      if (r < 61 && !inMask.has((r + 1) + ':' + t)) d += `M${x0},${y1}L${x1},${y1}`;
      if (!inMask.has(r + ':' + (t - 4))) d += `M${x0},${y0}L${x0},${y1}`;
      if (!inMask.has(r + ':' + (t + 4))) d += `M${x1},${y0}L${x1},${y1}`;
    });
    g.append('path').attr('d', d).attr('fill', 'none').attr('stroke', m.stroke)
      .attr('stroke-width', 2.6).attr('stroke-linecap', 'square');
  });

  g.append('line').attr('x1', x(0)).attr('x2', x(0)).attr('y1', o.top).attr('y2', o.bottom)
    .attr('stroke', '#000').attr('stroke-width', 4);
  g.append('line').attr('x1', left).attr('x2', left).attr('y1', o.top).attr('y2', o.bottom)
    .attr('stroke', '#8a9a9a').attr('stroke-width', 1);

  // axes
  const xAxis = g.append('g').attr('transform', `translate(0,${o.bottom})`)
    .call(d3.axisBottom(x).tickValues(timeTicks).tickSize(16).tickPadding(6).tickFormat(d => String(d)));
  xAxis.select('.domain').remove();
  xAxis.selectAll('line').attr('stroke', '#555').attr('stroke-width', 1.4);
  xAxis.selectAll('text').attr('font-size', 19).attr('fill', '#222');
  g.append('line').attr('x1', left - 17).attr('x2', right).attr('y1', o.bottom).attr('y2', o.bottom)
    .attr('stroke', '#777').attr('stroke-width', 3);

  const yAxis = g.append('g').attr('transform', `translate(${left},0)`)
    .call(d3.axisLeft(y).tickValues(regionTickRows).tickSize(17).tickPadding(6).tickFormat((d, i) => regionNames[i]));
  yAxis.select('.domain').remove();
  yAxis.selectAll('line').attr('stroke', '#444').attr('stroke-width', 1.6);
  yAxis.selectAll('text').attr('font-size', 18.5).attr('fill', '#222');

  g.append('text').attr('x', o.timeLabel[0]).attr('y', o.timeLabel[1]).attr('text-anchor', 'middle')
    .attr('font-size', 25).attr('dominant-baseline', 'middle').text('Time (seconds)');
  g.append('text').attr('transform', `translate(${o.elecLabel[0]},${o.elecLabel[1]}) rotate(-90)`)
    .attr('text-anchor', 'middle').attr('dominant-baseline', 'middle').attr('font-size', 24).text('Electrodes');

  // colour bar
  const gradId = o.id + 'grad', paleId = o.id + 'pale';
  const samples = d3.range(0, 1.001, 0.025);
  const grad = defs.append('linearGradient').attr('id', gradId).attr('x1', 0).attr('x2', 0).attr('y1', 1).attr('y2', 0);
  const gradP = defs.append('linearGradient').attr('id', paleId).attr('x1', 0).attr('x2', 0).attr('y1', 1).attr('y2', 0);
  samples.forEach(s => {
    grad.append('stop').attr('offset', s).attr('stop-color', jet(s));
    gradP.append('stop').attr('offset', s).attr('stop-color', pale(s));
  });
  const [b0, b1, b2] = o.bar;
  g.append('rect').attr('x', b0).attr('y', o.top).attr('width', b1 - b0).attr('height', o.bottom - o.top).attr('fill', `url(#${paleId})`);
  g.append('rect').attr('x', b1).attr('y', o.top).attr('width', b2 - b1).attr('height', o.bottom - o.top).attr('fill', `url(#${gradId})`);
  const yBar = d3.scaleLinear().domain([-o.barMax[0], o.barMax[1]]).range([o.bottom, o.top]);
  const barAxis = g.append('g').attr('transform', `translate(${b2},0)`)
    .call(d3.axisRight(yBar).tickValues(o.barTicks).tickSize(11).tickPadding(5).tickFormat(d => String(d)));
  barAxis.select('.domain').remove();
  barAxis.selectAll('line').attr('stroke', '#222').attr('stroke-width', 2);
  barAxis.selectAll('text').attr('font-size', 19).attr('fill', '#222');
  g.append('line').attr('x1', b2).attr('x2', b2).attr('y1', o.top).attr('y2', o.bottom).attr('stroke', '#222').attr('stroke-width', 1.6);
  g.append('line').attr('x1', b0 - 11).attr('x2', b2).attr('y1', o.bottom).attr('y2', o.bottom).attr('stroke', '#222').attr('stroke-width', 2.5);
  g.append('text').attr('transform', `translate(${o.barLabel[0]},${o.barLabel[1]}) rotate(-90)`)
    .attr('text-anchor', 'middle').attr('dominant-baseline', 'middle').attr('font-size', 24).text('t-value');
}

// widen the 13 x 13 grid and soften it so the contours come out round
const topoZoom = 6;
function softenGrid(field) {
  const n = 13 * topoZoom;
  let grid = new Array(n * n);
  for (let j = 0; j < n; j++) {
    for (let i = 0; i < n; i++) {
      grid[j * n + i] = +field[Math.floor(j / topoZoom)][Math.floor(i / topoZoom)];
    }
  }
  const r = 3;
  for (let pass = 0; pass < 3; pass++) {
    const next = new Array(n * n);
    for (let j = 0; j < n; j++) {
      for (let i = 0; i < n; i++) {
        let sum = 0, k = 0;
        for (let dj = -r; dj <= r; dj++) {
          for (let di = -r; di <= r; di++) {
            const jj = Math.min(n - 1, Math.max(0, j + dj));
            const ii = Math.min(n - 1, Math.max(0, i + di));
            sum += grid[jj * n + ii];
            k++;
          }
        }
        next[j * n + i] = sum / k;
      }
    }
    grid = next;
  }
  return grid;
}

// one scalp map: halo, coloured disc, contours, head outline, electrodes
let topoCount = 0;
function drawTopo(o) {
  const id = 'topo' + (topoCount++);
  const g = svg.append('g');
  const cx = o.cx, cy = o.cy;
  defs.append('clipPath').attr('id', id).append('circle').attr('cx', cx).attr('cy', cy).attr('r', o.rDisc);

  g.append('circle').attr('cx', cx).attr('cy', cy).attr('r', o.rHalo).attr('fill', '#e8f0fb');

  const values = softenGrid(o.field);
  const n = 13 * topoZoom;
  const R = o.rDisc * 1.04 * 13 / 12;
  const sx = d3.scaleLinear().domain([0, n]).range([cx - R, cx + R]);
  const sy = d3.scaleLinear().domain([0, n]).range([cy - R, cy + R]);
  const path = d3.geoPath(d3.geoTransform({ point(px, py) { this.stream.point(sx(px), sy(py)); } }));
  const level = d3.scaleLinear().domain([0, 9]).range([0.1, 0.9]);

  const disc = g.append('g').attr('clip-path', `url(#${id})`);
  const fills = disc.append('g').attr('filter', 'url(#blurTopo)');
  fills.selectAll('path').data(d3.contours().size([n, n]).thresholds(d3.range(-0.5, 9.6, 0.1))(values))
    .enter().append('path').attr('d', path).attr('fill', d => jet(level(d.value)));
  disc.append('g').selectAll('path').data(d3.contours().size([n, n]).thresholds(d3.range(0.5, 9, 1))(values))
    .enter().append('path').attr('d', path).attr('fill', 'none')
    .attr('stroke', '#2a3a3a').attr('stroke-opacity', 0.5).attr('stroke-width', 1.1);

  const hx = d3.scaleLinear().domain([-1, 1]).range([cx - o.rHead, cx + o.rHead]);
  const hy = d3.scaleLinear().domain([-1, 1]).range([cy - o.rHead, cy + o.rHead]);
  const head = g.append('g').attr('fill', 'none').attr('stroke', '#000').attr('stroke-width', o.headWidth);
  head.append('circle').attr('cx', cx).attr('cy', cy).attr('r', o.rHead);
  const line = d3.line().x(d => hx(d[0])).y(d => hy(d[1]));
  head.append('path').attr('stroke-width', o.headWidth * 0.7).attr('d', line([[-.16, -.98], [0, -1.17], [.16, -.98]]));
  const ear = [[1, -.22], [1.07, -.24], [1.1, -.18], [1.09, .2], [1.05, .28], [1, .26]];
  head.append('path').attr('stroke-width', o.headWidth * 0.6).attr('d', d3.line().curve(d3.curveCatmullRom).x(d => hx(d[0])).y(d => hy(d[1]))(ear));
  head.append('path').attr('stroke-width', o.headWidth * 0.6).attr('d', d3.line().curve(d3.curveCatmullRom).x(d => hx(-d[0])).y(d => hy(d[1]))(ear));

  o.dots.forEach(set => {
    g.append('g').selectAll('circle').data(set.points).enter().append('circle')
      .attr('cx', d => hx(d[0])).attr('cy', d => hy(d[1])).attr('r', o.dotR).attr('fill', set.color);
  });
  if (o.label) {
    g.append('text').attr('x', o.labelX).attr('y', o.labelY).attr('text-anchor', 'middle')
      .attr('dominant-baseline', 'middle').attr('font-size', 21).text(o.label);
  }
}

// one amplitude plot
function drawLines(o) {
  const g = svg.append('g');
  const x = d3.scaleLinear().domain([0, 0.6]).range([o.zeroX, o.zeroX + 0.6 * 894.6]);
  const y = d3.scaleLinear().domain([-0.2, 0.2]).range([2743.5, 2365]);
  const left = o.left, right = o.right, top = 2177, bottom = 2837;
  const id = 'lines' + Math.round(o.zeroX);
  defs.append('clipPath').attr('id', id).append('rect')
    .attr('x', left).attr('y', top).attr('width', right - left).attr('height', bottom - top);

  g.append('rect').attr('x', left).attr('y', top).attr('width', right - left).attr('height', bottom - top)
    .attr('fill', '#fff').attr('stroke', '#e6e6e6').attr('stroke-width', 2);
  g.selectAll('line.vg').data(lineTicksX.filter(d => d !== 0)).enter().append('line').attr('class', 'vg')
    .attr('x1', d => x(d)).attr('x2', d => x(d)).attr('y1', top).attr('y2', bottom)
    .attr('stroke', '#e8e8e8').attr('stroke-width', 3.5);
  g.selectAll('line.hg').data(lineTicksY.filter(d => d !== 0)).enter().append('line').attr('class', 'hg')
    .attr('x1', left).attr('x2', right).attr('y1', d => y(d)).attr('y2', d => y(d))
    .attr('stroke', '#e8e8e8').attr('stroke-width', 3.5);
  g.append('rect').attr('x', x(windowSeconds[0])).attr('y', top)
    .attr('width', x(windowSeconds[1]) - x(windowSeconds[0])).attr('height', bottom - top)
    .attr('fill', '#f4f4f4').style('mix-blend-mode', 'multiply');
  g.append('line').attr('x1', x(0)).attr('x2', x(0)).attr('y1', top).attr('y2', bottom)
    .attr('stroke', '#bdbdbd').attr('stroke-width', 6);
  g.append('line').attr('x1', left).attr('x2', right).attr('y1', y(0)).attr('y2', y(0))
    .attr('stroke', '#bdbdbd').attr('stroke-width', 6);
  g.append('rect').attr('x', x(windowSeconds[0])).attr('y', y(windowBar[0]))
    .attr('width', x(windowSeconds[1]) - x(windowSeconds[0])).attr('height', y(windowBar[1]) - y(windowBar[0]))
    .attr('fill', '#000');

  const line = d3.line().curve(d3.curveCatmullRom.alpha(0.5)).x(d => x(d[0] / 1000)).y(d => y(d[1]));
  const lines = g.append('g').attr('clip-path', `url(#${id})`);
  lines.append('path').attr('d', line(o.light)).attr('fill', 'none').attr('stroke', colorLight).attr('stroke-width', 6);
  lines.append('path').attr('d', line(o.dark)).attr('fill', 'none').attr('stroke', colorDark).attr('stroke-width', 6);

  const xAxis = g.append('g').attr('transform', `translate(0,${bottom})`)
    .call(d3.axisBottom(x).tickValues(lineTicksX).tickSize(0).tickPadding(14).tickFormat(d => String(d)));
  xAxis.select('.domain').remove();
  xAxis.selectAll('text').attr('font-size', 25.5).attr('fill', '#222');
  const yAxis = g.append('g').attr('transform', `translate(${left},0)`)
    .call(d3.axisLeft(y).tickValues(lineTicksY).tickSize(0).tickPadding(7)
      .tickFormat(d => d < 0 ? '\u2212' + Math.abs(d) : String(d)));
  yAxis.select('.domain').remove();
  yAxis.selectAll('text').attr('font-size', 25.5).attr('fill', '#222');

  g.append('text').attr('x', o.timeX).attr('y', 2892).attr('text-anchor', 'middle')
    .attr('dominant-baseline', 'middle').attr('font-size', 26).text('Time (seconds)');
  g.append('text').attr('class', 'bold').attr('x', o.titleX).attr('y', 2117).attr('text-anchor', 'middle')
    .attr('dominant-baseline', 'middle').attr('font-size', o.titleSize).text(o.title);
}

drawHeatPanel({
  id: 'A', bg: bgA, tMax: tMaxA, zeroX: 763, pxPerSec: 1904, left: 384, right: 2088, top: 21, bottom: 573,
  masks: [
    { spans: whiteMaskA, base: -3, stroke: '#fff' },
    { spans: blackMaskA, base: 2.2, stroke: '#111' },
    { spans: greyMaskA, base: -2.7, stroke: '#777' }
  ],
  heat: heatA, bar: [2119, 2140, 2161], barMax: [6.56, 6.64], barTicks: barTicksA,
  timeLabel: [1236, 634], elecLabel: [265, 297], barLabel: [2232, 298]
});
drawHeatPanel({
  id: 'B', bg: bgB, tMax: tMaxB, zeroX: 786, pxPerSec: 1923, left: 401, right: 2125, top: 1103, bottom: 1661,
  masks: [
    { spans: paleMaskB, base: -2.4, stroke: '#dfe9ef' },
    { spans: greyMaskB, base: 2, stroke: '#6b6b5e' },
    { spans: whiteMaskB, base: -2.6, stroke: '#fff' },
    { spans: blackMaskB, base: 2.2, stroke: '#111' }
  ],
  heat: heatB, bar: [2158, 2177.5, 2198], barMax: [4.75, 4.8], barTicks: barTicksB,
  timeLabel: [1265, 1723], elecLabel: [280, 1376], barLabel: [2251, 1381]
});

const topA = { cy: 805.5, rDisc: 99, rHalo: 108, rHead: 76, headWidth: 3, dotR: 5, labelY: 933 };
const topB = { cy: 1895, rDisc: 99.5, rHalo: 110, rHead: 77, headWidth: 3, dotR: 5, labelY: 2025 };
const grayDot = '#a08a90';
drawTopo({ ...topA, cx: 761, field: topoA1, labelX: 757, label: '0.300 - 0.396 s', dots: [{ points: dotsA1Black, color: '#000' }, { points: dotsA1White, color: '#fff' }] });
drawTopo({ ...topA, cx: 1083, field: topoA2, labelX: 1079, label: '0.400 - 0.496 s', dots: [{ points: dotsA2Black, color: '#000' }, { points: dotsA2White, color: '#fff' }] });
drawTopo({ ...topA, cx: 1406.6, field: topoA3, labelX: 1402, label: '0.500 - 0.596 s', dots: [{ points: dotsA3Black, color: '#000' }, { points: dotsA3Grey, color: grayDot }] });
drawTopo({ ...topA, cx: 1729, field: topoA4, labelX: 1724, label: '0.600 - 0.692 s', dots: [{ points: dotsA4Black, color: '#000' }, { points: dotsA4Grey, color: grayDot }] });
drawTopo({ ...topB, cx: 783, field: topoB1, labelX: 779, label: '0.120 - 0.216 s', dots: [{ points: dotsB1Light, color: '#dcdcdc' }, { points: dotsB1Dark, color: '#60656a' }] });
drawTopo({ ...topB, cx: 1433, field: topoB2, labelX: 1430, label: '0.400 - 0.496 s', dots: [{ points: dotsB2White, color: '#fff' }, { points: dotsB2Black, color: '#000' }] });
drawTopo({ ...topB, cx: 1760, field: topoB3, labelX: 1756, label: '0.500 - 0.596 s', dots: [{ points: dotsB3White, color: '#fff' }, { points: dotsB3Black, color: '#000' }] });
drawTopo({ cx: 2050, cy: 2341, rDisc: 143, rHalo: 155.5, rHead: 108.5, headWidth: 2.4, dotR: 8.5, field: topoC, dots: [{ points: dotsCBlack, color: '#000' }] });

drawLines({ zeroX: 281.6, left: 103, right: 905, light: ttbNonDiscriminating, dark: ttbDiscriminating, title: 'TTB users', titleX: 523, timeX: 503, titleSize: 44.5 });
drawLines({ zeroX: 1196.6, left: 1018, right: 1819.5, light: waddNonDiscriminating, dark: waddDiscriminating, title: 'extreme WADD users', titleX: 1631, timeX: 1418, titleSize: 46 });

svg.append('text').attr('transform', 'translate(20,2508) rotate(-90)').attr('text-anchor', 'middle')
  .attr('dominant-baseline', 'middle').attr('font-size', 25.5).text('Amplitude (arbitrary units)');

// legend
const legend = svg.append('g');
legend.append('rect').attr('x', 1870).attr('y', 2674).attr('width', 362).attr('height', 90).attr('fill', '#f2f2f2');
const legendY = d3.scalePoint().domain(legendLabels).range([2698, 2740]);
const legendEnd = { [legendLabels[0]]: 2205, [legendLabels[1]]: 2232 };
legendLabels.forEach((name, i) => {
  legend.append('line').attr('x1', 1886).attr('x2', 1963).attr('y1', legendY(name)).attr('y2', legendY(name))
    .attr('stroke', i === 0 ? colorDark : colorLight).attr('stroke-width', 6);
  legend.append('text').attr('x', legendEnd[name]).attr('y', legendY(name) + 4).attr('text-anchor', 'end')
    .attr('dominant-baseline', 'middle').attr('font-size', 31).text(name);
});

// panel letters
const panelLetters = ['A', 'B', 'C'];
const letterBaselines = [60, 1097, 2116];
svg.selectAll('text.letter').data(panelLetters).enter().append('text').attr('class', 'letter bold')
  .attr('x', 60).attr('y', (d, i) => letterBaselines[i]).attr('font-size', 44).text(d => d);
</script>
</body>
</html>
